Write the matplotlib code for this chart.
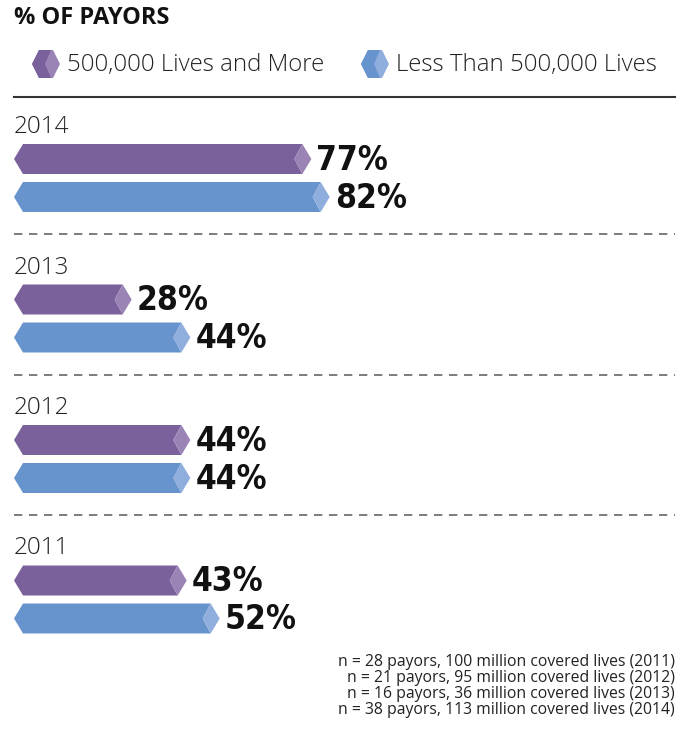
import matplotlib.pyplot as plt
from matplotlib.patches import Polygon

years = ['2014', '2013', '2012', '2011']
large = [77, 28, 44, 43]      # 500,000 Lives and More
small = [82, 44, 44, 52]      # Less Than 500,000 Lives
series_labels = ['500,000 Lives and More', 'Less Than 500,000 Lives']
notes = ['n = 28 payors, 100 million covered lives (2011)',
         'n = 21 payors, 95 million covered lives (2012)',
         'n = 16 payors, 36 million covered lives (2013)',
         'n = 38 payors, 113 million covered lives (2014)']

purple, purple_lt = '#7B619B', '#9A84B6'
blue, blue_lt = '#6894CE', '#8FADDD'

W, H = 683, 729
fig = plt.figure(figsize=(W / 100, H / 100), dpi=100)
ax = fig.add_axes([0, 0, 1, 1])
# x axis in percent (pixel x = 29 + 3.667 * pct), y axis in pixels from top
px = 3.667
x0 = 29
ax.set_xlim(-x0 / px, (W - x0) / px)
ax.set_ylim(H, 0)
ax.axis('off')

label_font = ['Open Sans', 'DejaVu Sans']


def draw_bar(val, yc, col, col_lt, h=30):
    t, b = yc - h / 2, yc + h / 2
    left_tip = -15 / px
    left_top = -6 / px
    notch = 8 / px
    tip = 9 / px
    ax.add_patch(Polygon([(left_tip, yc), (left_top, t), (val - tip, t), (val - tip - notch, yc),
                          (val - tip, b), (left_top, b)], closed=True, fc=col, ec='none'))
    ax.add_patch(Polygon([(val - tip, t), (val, yc), (val - tip, b), (val - tip - notch, yc)],
                         closed=True, fc=col_lt, ec='none'))
    ax.text(val + 5 / px, yc + 1, f'{val}%', fontsize=24, fontweight='bold',
            family='DejaVu Sans', fontstretch='condensed',
            ha='left', va='center', color='#111111')


group_top = 127
step = 140.5
for i, yr in enumerate(years):
    y = group_top + i * step
    ax.text(-15 / px, y, yr, fontsize=17.5, family=label_font, fontweight='light',
            ha='left', va='center', color='#222222')
    draw_bar(large[i], y + 32, purple, purple_lt)
    draw_bar(small[i], y + 70, blue, blue_lt)
    if i < len(years) - 1:
        ax.plot([-15 / px, (675 - x0) / px], [y + 107, y + 107], color='#666666',
                lw=1.2, dashes=(5, 4))

# header
ax.plot([-15 / px, (675 - x0) / px], [97, 97], color='#333333', lw=1.5)
ax.text(-15 / px, 18, '% OF PAYORS', fontsize=17, fontweight='bold', family=label_font,
        ha='left', va='center', color='#111111')


def legend_icon(xl, yc, col, col_lt):
    s = 1 / px
    ax.add_patch(Polygon([(xl, yc), (xl + 7 * s, yc - 14), (xl + 21 * s, yc - 14), (xl + 28 * s, yc),
                          (xl + 21 * s, yc + 14), (xl + 7 * s, yc + 14)], closed=True, fc=col_lt, ec='none'))
    ax.add_patch(Polygon([(xl, yc), (xl + 7 * s, yc - 14), (xl + 19 * s, yc - 14), (xl + 13 * s, yc),
                          (xl + 19 * s, yc + 14), (xl + 7 * s, yc + 14)], closed=True, fc=col, ec='none'))


legend_icon((32 - x0) / px, 64, purple, purple_lt)
ax.text((67 - x0) / px, 65, series_labels[0], fontsize=17.3, family=label_font, fontweight='light',
        ha='left', va='center', color='#222222')
legend_icon((361 - x0) / px, 64, blue, blue_lt)
ax.text((396 - x0) / px, 65, series_labels[1], fontsize=17.3, family=label_font, fontweight='light',
        ha='left', va='center', color='#222222')

for j, note in enumerate(notes):
    ax.text((675 - x0) / px, 662 + j * 16, note, fontsize=11.3, family=label_font,
            ha='right', va='center', color='#222222')

plt.savefig('out.png', dpi=100)
plt.close()
